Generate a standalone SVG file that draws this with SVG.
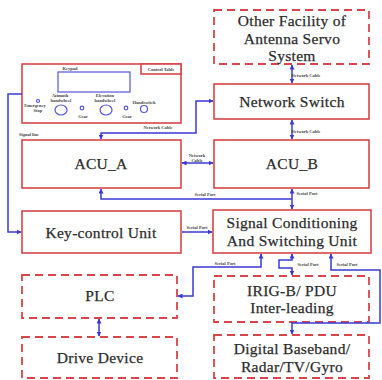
<svg xmlns="http://www.w3.org/2000/svg" width="382" height="380" viewBox="0 0 382 380">
  <style>
    .box { fill: #fff; stroke: #d8454a; stroke-width: 1.6; }
    .dash { fill: #fff; stroke: #d8454a; stroke-width: 1.8; stroke-dasharray: 8 5; }
    .wire { fill: none; stroke: #3a3ad6; stroke-width: 1.5; }
    .part { fill: none; stroke: #5555d8; stroke-width: 1.2; }
    text { font-family: "Liberation Serif", "Times New Roman", "DejaVu Serif", serif; }
    .big { font-size: 15.5px; letter-spacing: 0.3px; fill: #2b2b2b; text-anchor: middle; dominant-baseline: central; stroke: #2b2b2b; stroke-width: 0.25; }
    .tiny { font-size: 4.5px; font-weight: bold; fill: #444; text-anchor: middle; dominant-baseline: central; }
  </style>
  <defs>
    <marker id="arr" viewBox="0 0 10 10" refX="9" refY="5" markerWidth="5" markerHeight="5" markerUnits="userSpaceOnUse" orient="auto-start-reverse">
      <path d="M0,0 L10,5 L0,10 Z" fill="#3a3ad6"/>
    </marker>
  </defs>
  <rect width="382" height="380" fill="#fff"/>

  <!-- control table panel -->
  <g id="control-table">
    <rect class="box" x="22" y="64" width="159" height="59"/>
    <rect class="box" x="141" y="64" width="40" height="10"/>
    <text class="tiny" x="161" y="69">Control Table</text>
    <text class="tiny" x="70" y="68">Keypad</text>
    <rect class="part" x="58" y="72" width="72" height="20"/>
    <circle class="part" cx="38" cy="101" r="1.5"/>
    <text class="tiny" x="35" y="105">Emergency</text>
    <text class="tiny" x="38" y="110">Stop</text>
    <text class="tiny" x="60" y="95">Azimuth</text>
    <text class="tiny" x="61" y="100">handwheel</text>
    <ellipse class="part" cx="61" cy="110" rx="6" ry="5"/>
    <circle class="part" cx="82" cy="108" r="1.8"/>
    <text class="tiny" x="83" y="116">Gear</text>
    <text class="tiny" x="105" y="95">Elevation</text>
    <text class="tiny" x="105" y="100">handwheel</text>
    <ellipse class="part" cx="106" cy="110" rx="6" ry="5"/>
    <circle class="part" cx="126" cy="108" r="1.8"/>
    <text class="tiny" x="127" y="116">Gear</text>
    <text class="tiny" x="144" y="102">Handswitch</text>
    <circle class="part" cx="144" cy="109" r="3.5"/>
  </g>

  <g id="other-facility">
    <rect class="dash" x="214" y="10" width="155" height="54"/>
    <text class="big" x="292" y="20.5">Other Facility of</text>
    <text class="big" x="292" y="38">Antenna Servo</text>
    <text class="big" x="292" y="55.5">System</text>
  </g>

  <g id="network-switch">
    <rect class="box" x="214" y="84" width="155" height="35"/>
    <text class="big" x="292" y="101">Network Switch</text>
  </g>

  <g id="acu-a">
    <rect class="box" x="22" y="140" width="159" height="48"/>
    <text class="big" x="101" y="163">ACU_A</text>
  </g>

  <g id="acu-b">
    <rect class="box" x="214" y="140" width="155" height="48"/>
    <text class="big" x="292" y="163">ACU_B</text>
  </g>

  <g id="key-control">
    <rect class="box" x="22" y="211" width="159" height="42"/>
    <text class="big" x="101" y="232">Key-control Unit</text>
  </g>

  <g id="signal-conditioning">
    <rect class="box" x="213" y="210" width="158" height="43"/>
    <text class="big" x="292" y="222.8">Signal Conditioning</text>
    <text class="big" x="292" y="240.3">And Switching Unit</text>
  </g>

  <g id="plc">
    <rect class="dash" x="22" y="275" width="155" height="43"/>
    <text class="big" x="100" y="295">PLC</text>
  </g>

  <g id="drive-device">
    <rect class="dash" x="22" y="337" width="155" height="41"/>
    <text class="big" x="100" y="357">Drive Device</text>
  </g>

  <g id="irig-pdu">
    <rect class="dash" x="214" y="276" width="155" height="46"/>
    <text class="big" x="292" y="290">IRIG-B/ PDU</text>
    <text class="big" x="292" y="307.5">Inter-leading</text>
  </g>

  <g id="digital-baseband">
    <rect class="dash" x="214" y="335" width="155" height="43"/>
    <text class="big" x="292" y="348.5">Digital Baseband/</text>
    <text class="big" x="292" y="366">Radar/TV/Gyro</text>
  </g>

  <!-- connectors -->
  <g id="connectors">
    <line class="wire" x1="292" y1="65" x2="292" y2="83" marker-start="url(#arr)" marker-end="url(#arr)"/>
    <line class="wire" x1="292" y1="120" x2="292" y2="139" marker-start="url(#arr)" marker-end="url(#arr)"/>
    <line class="wire" x1="182" y1="163" x2="213" y2="163" marker-start="url(#arr)" marker-end="url(#arr)"/>
    <path class="wire" d="M101,139 V133 H196 V101 H213" marker-start="url(#arr)" marker-end="url(#arr)"/>
    <line class="wire" x1="292" y1="189" x2="292" y2="209" marker-start="url(#arr)" marker-end="url(#arr)"/>
    <path class="wire" d="M292,199 H101 V189" marker-end="url(#arr)"/>
    <path class="wire" d="M22,94 H8 V232 H21" marker-end="url(#arr)"/>
    <line class="wire" x1="182" y1="232" x2="212" y2="232" marker-end="url(#arr)"/>
    <path class="wire" d="M261,254 V267 H193 V296 H178" marker-start="url(#arr)" marker-end="url(#arr)"/>
    <path class="wire" d="M292,254 V260 H279 V268 H292 V275" marker-start="url(#arr)" marker-end="url(#arr)"/>
    <path class="wire" d="M331,254 V270 H380 V323 H292 V334" marker-start="url(#arr)" marker-end="url(#arr)"/>
    <line class="wire" x1="99" y1="319" x2="99" y2="336" marker-start="url(#arr)" marker-end="url(#arr)"/>

    <text class="tiny" x="306" y="75">Network Cable</text>
    <text class="tiny" x="306" y="131">Network Cable</text>
    <text class="tiny" x="158" y="127">Network Cable</text>
    <text class="tiny" x="197" y="155">Network</text>
    <text class="tiny" x="197" y="160">Cable</text>
    <text class="tiny" x="29" y="134">Signal line</text>
    <text class="tiny" x="205" y="194">Serial Port</text>
    <text class="tiny" x="307" y="193">Serial Port</text>
    <text class="tiny" x="197" y="227">Serial Port</text>
    <text class="tiny" x="225" y="263">Serial Port</text>
    <text class="tiny" x="308" y="264">Serial Port</text>
    <text class="tiny" x="347" y="264">Serial Port</text>
  </g>
</svg>
